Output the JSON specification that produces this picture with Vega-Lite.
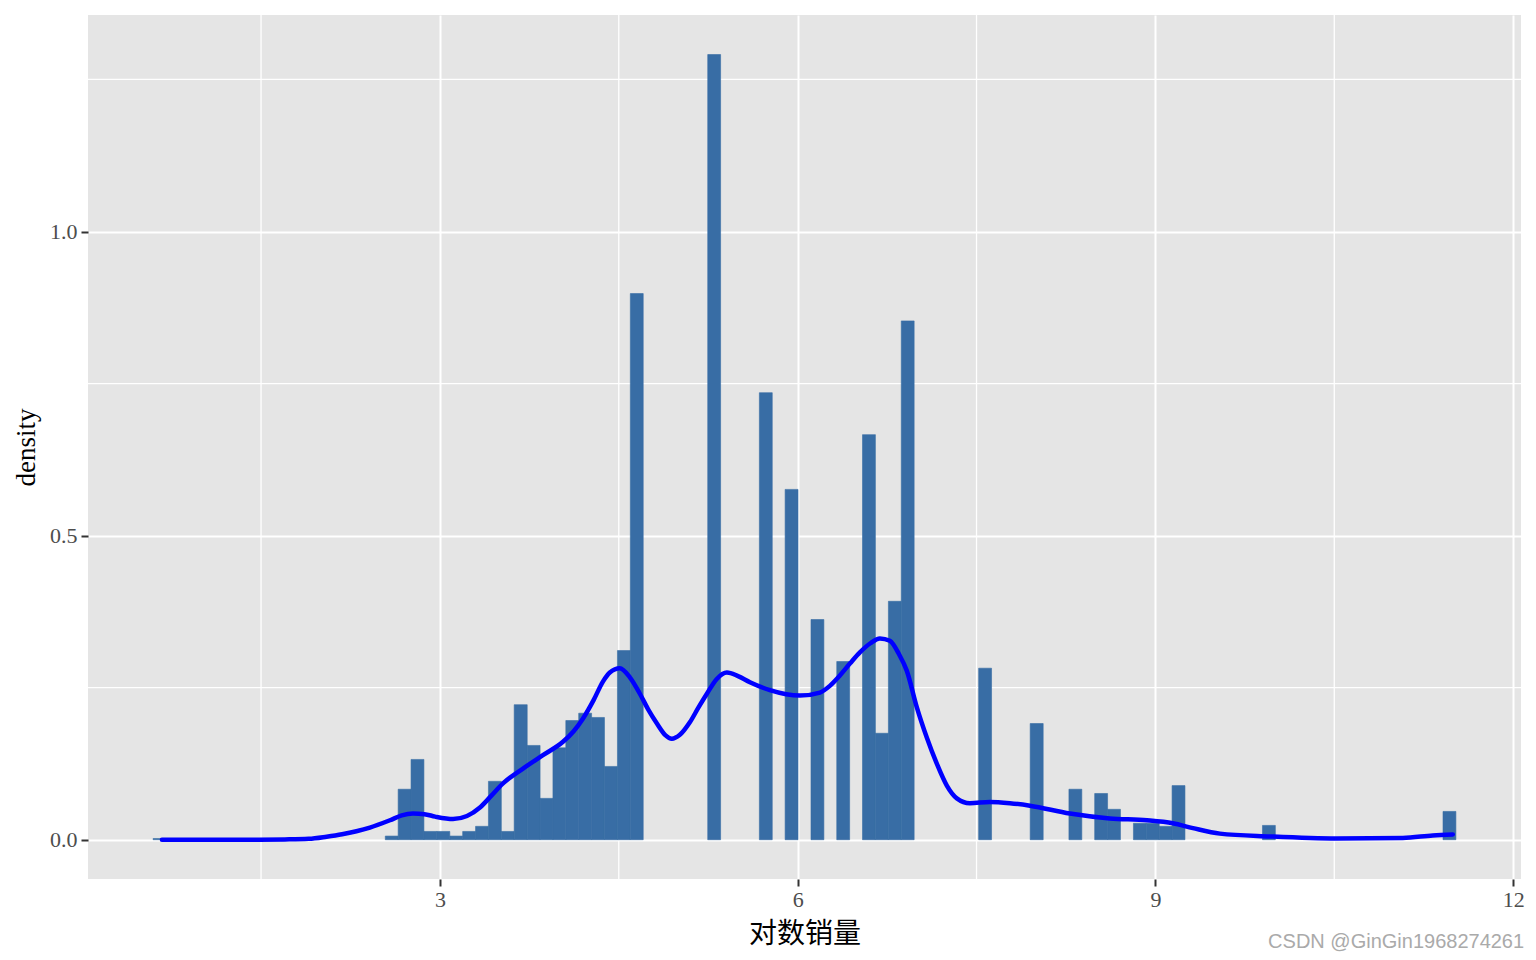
{
  "$schema": "https://vega.github.io/schema/vega-lite/v6.json",
  "width": 1433,
  "height": 864,
  "autosize": {"type": "none"},
  "padding": {"left": 88, "top": 15, "right": 15, "bottom": 81},
  "background": "#FFFFFF",
  "title": {
    "text": "CSDN @GinGin1968274261",
    "orient": "bottom",
    "anchor": "end",
    "font": "Liberation Sans",
    "fontSize": 20,
    "fontWeight": "normal",
    "color": "#AAAAAA",
    "offset": -16
  },
  "datasets": {
    "bars": [
      {"x0": 0.595, "x1": 0.703, "density": 0.002},
      {"x0": 2.542, "x1": 2.650, "density": 0.006},
      {"x0": 2.650, "x1": 2.758, "density": 0.083},
      {"x0": 2.758, "x1": 2.866, "density": 0.132},
      {"x0": 2.866, "x1": 2.974, "density": 0.0136},
      {"x0": 2.974, "x1": 3.083, "density": 0.0136},
      {"x0": 3.083, "x1": 3.191, "density": 0.006},
      {"x0": 3.191, "x1": 3.299, "density": 0.0136},
      {"x0": 3.299, "x1": 3.407, "density": 0.022},
      {"x0": 3.407, "x1": 3.515, "density": 0.096},
      {"x0": 3.515, "x1": 3.623, "density": 0.0136},
      {"x0": 3.623, "x1": 3.732, "density": 0.222},
      {"x0": 3.732, "x1": 3.840, "density": 0.155},
      {"x0": 3.840, "x1": 3.948, "density": 0.068},
      {"x0": 3.948, "x1": 4.056, "density": 0.151},
      {"x0": 4.056, "x1": 4.164, "density": 0.196},
      {"x0": 4.164, "x1": 4.272, "density": 0.208},
      {"x0": 4.272, "x1": 4.380, "density": 0.201},
      {"x0": 4.380, "x1": 4.489, "density": 0.1205},
      {"x0": 4.489, "x1": 4.597, "density": 0.311},
      {"x0": 4.597, "x1": 4.705, "density": 0.898},
      {"x0": 5.246, "x1": 5.354, "density": 1.291},
      {"x0": 5.679, "x1": 5.787, "density": 0.735},
      {"x0": 5.895, "x1": 6.003, "density": 0.576},
      {"x0": 6.112, "x1": 6.220, "density": 0.362},
      {"x0": 6.328, "x1": 6.436, "density": 0.293},
      {"x0": 6.544, "x1": 6.652, "density": 0.666},
      {"x0": 6.652, "x1": 6.761, "density": 0.175},
      {"x0": 6.761, "x1": 6.869, "density": 0.392},
      {"x0": 6.869, "x1": 6.977, "density": 0.853},
      {"x0": 7.518, "x1": 7.626, "density": 0.282},
      {"x0": 7.950, "x1": 8.059, "density": 0.191},
      {"x0": 8.275, "x1": 8.383, "density": 0.083},
      {"x0": 8.491, "x1": 8.599, "density": 0.076},
      {"x0": 8.599, "x1": 8.707, "density": 0.050},
      {"x0": 8.816, "x1": 8.924, "density": 0.027},
      {"x0": 8.924, "x1": 9.032, "density": 0.027},
      {"x0": 9.032, "x1": 9.140, "density": 0.022},
      {"x0": 9.140, "x1": 9.248, "density": 0.089},
      {"x0": 9.898, "x1": 10.006, "density": 0.0235},
      {"x0": 11.412, "x1": 11.520, "density": 0.0465}
    ],
    "dens": [
      {"x": 0.669, "density": 0.000},
      {"x": 1.000, "density": 0.000},
      {"x": 1.407, "density": 0.000},
      {"x": 1.700, "density": 0.0005},
      {"x": 1.900, "density": 0.0015},
      {"x": 2.050, "density": 0.005},
      {"x": 2.180, "density": 0.009},
      {"x": 2.300, "density": 0.014},
      {"x": 2.413, "density": 0.020},
      {"x": 2.581, "density": 0.032},
      {"x": 2.680, "density": 0.040},
      {"x": 2.774, "density": 0.043},
      {"x": 2.870, "density": 0.042},
      {"x": 2.960, "density": 0.038},
      {"x": 3.110, "density": 0.034},
      {"x": 3.227, "density": 0.039},
      {"x": 3.336, "density": 0.053},
      {"x": 3.430, "density": 0.072},
      {"x": 3.529, "density": 0.0925},
      {"x": 3.697, "density": 0.117},
      {"x": 3.864, "density": 0.139},
      {"x": 4.032, "density": 0.161},
      {"x": 4.120, "density": 0.178},
      {"x": 4.199, "density": 0.199},
      {"x": 4.290, "density": 0.230},
      {"x": 4.367, "density": 0.260},
      {"x": 4.425, "density": 0.275},
      {"x": 4.509, "density": 0.282},
      {"x": 4.593, "density": 0.267},
      {"x": 4.677, "density": 0.240},
      {"x": 4.750, "density": 0.213},
      {"x": 4.820, "density": 0.191},
      {"x": 4.890, "density": 0.172},
      {"x": 4.945, "density": 0.166},
      {"x": 5.010, "density": 0.172},
      {"x": 5.096, "density": 0.193},
      {"x": 5.170, "density": 0.218},
      {"x": 5.239, "density": 0.240},
      {"x": 5.320, "density": 0.264},
      {"x": 5.407, "density": 0.275},
      {"x": 5.500, "density": 0.269},
      {"x": 5.600, "density": 0.259},
      {"x": 5.767, "density": 0.246},
      {"x": 6.019, "density": 0.237},
      {"x": 6.187, "density": 0.242},
      {"x": 6.270, "density": 0.253},
      {"x": 6.354, "density": 0.270},
      {"x": 6.440, "density": 0.290},
      {"x": 6.522, "density": 0.308},
      {"x": 6.610, "density": 0.323},
      {"x": 6.690, "density": 0.331},
      {"x": 6.773, "density": 0.327},
      {"x": 6.850, "density": 0.305},
      {"x": 6.915, "density": 0.278},
      {"x": 6.999, "density": 0.218},
      {"x": 7.083, "density": 0.168},
      {"x": 7.167, "density": 0.125},
      {"x": 7.251, "density": 0.089},
      {"x": 7.335, "density": 0.068},
      {"x": 7.444, "density": 0.060},
      {"x": 7.612, "density": 0.062},
      {"x": 7.780, "density": 0.060},
      {"x": 7.948, "density": 0.056},
      {"x": 8.283, "density": 0.043},
      {"x": 8.618, "density": 0.035},
      {"x": 8.929, "density": 0.032},
      {"x": 9.147, "density": 0.027},
      {"x": 9.315, "density": 0.019},
      {"x": 9.541, "density": 0.010},
      {"x": 9.960, "density": 0.0054},
      {"x": 10.521, "density": 0.002},
      {"x": 11.075, "density": 0.003},
      {"x": 11.326, "density": 0.007},
      {"x": 11.494, "density": 0.0087}
    ],
    "minorx": [{"x": 1.5}, {"x": 4.5}, {"x": 7.5}, {"x": 10.5}],
    "minory": [{"density": 0.25}, {"density": 0.75}, {"density": 1.25}]
  },
  "layer": [
    {
      "data": {"name": "minorx"},
      "mark": {"type": "rule", "color": "#FFFFFF", "strokeWidth": 1.3},
      "encoding": {
        "x": {"field": "x", "type": "quantitative", "title": "对数销量",
              "scale": {"domain": [0.049, 12.066], "nice": false, "zero": false},
              "axis": {"values": [3, 6, 9, 12], "gridWidth": 2, "tickWidth": 2, "labelFontSize": 22}}
      }
    },
    {
      "data": {"name": "minory"},
      "mark": {"type": "rule", "color": "#FFFFFF", "strokeWidth": 1.3},
      "encoding": {
        "y": {"field": "density", "type": "quantitative", "title": "density",
              "scale": {"domain": [-0.0646, 1.356], "nice": false, "zero": false},
              "axis": {"values": [0, 0.5, 1.0], "format": ".1f", "gridWidth": 2, "tickWidth": 2, "labelFontSize": 22}}
      }
    },
    {
      "data": {"name": "bars"},
      "mark": {"type": "bar", "color": "#386DA5", "stroke": "#386DA5", "strokeWidth": 0.6},
      "encoding": {
        "x": {"field": "x0", "type": "quantitative", "title": "对数销量",
              "scale": {"domain": [0.049, 12.066], "nice": false, "zero": false},
              "axis": {"values": [3, 6, 9, 12], "gridWidth": 2, "tickWidth": 2, "labelFontSize": 22}},
        "x2": {"field": "x1"},
        "y": {"field": "density", "type": "quantitative", "title": "density",
              "scale": {"domain": [-0.0646, 1.356], "nice": false, "zero": false},
              "axis": {"values": [0, 0.5, 1.0], "format": ".1f", "gridWidth": 2, "tickWidth": 2, "labelFontSize": 22}},
        "y2": {"datum": 0}
      }
    },
    {
      "data": {"name": "dens"},
      "mark": {"type": "line", "color": "#0000FF", "strokeWidth": 4.5, "interpolate": "monotone", "strokeCap": "round", "strokeJoin": "round"},
      "encoding": {
        "x": {"field": "x", "type": "quantitative", "title": "对数销量",
              "scale": {"domain": [0.049, 12.066], "nice": false, "zero": false},
              "axis": {"values": [3, 6, 9, 12], "gridWidth": 2, "tickWidth": 2, "labelFontSize": 22}},
        "y": {"field": "density", "type": "quantitative", "title": "density",
              "scale": {"domain": [-0.0646, 1.356], "nice": false, "zero": false},
              "axis": {"values": [0, 0.5, 1.0], "format": ".1f", "gridWidth": 2, "tickWidth": 2, "labelFontSize": 22}}
      }
    }
  ],
  "config": {
    "view": {"fill": "#E5E5E5", "stroke": null},
    "axis": {
      "grid": true,
      "gridColor": "#FFFFFF",
      "gridWidth": 2,
      "gridOpacity": 1,
      "domain": false,
      "ticks": true,
      "tickColor": "#333333",
      "tickWidth": 2,
      "tickSize": 7,
      "labelFont": "Liberation Serif",
      "labelFontSize": 22,
      "labelColor": "#4D4D4D",
      "titleFontWeight": "normal",
      "titleColor": "#000000"
    },
    "axisX": {
      "labelPadding": 3,
      "labelFontSize": 22,
      "tickWidth": 2,
      "gridWidth": 2,
      "titleFont": "Noto Sans CJK SC",
      "titleFontSize": 28,
      "titlePadding": 10
    },
    "axisY": {
      "labelPadding": 4,
      "labelFontSize": 22,
      "tickWidth": 2,
      "gridWidth": 2,
      "titleFont": "Liberation Serif",
      "titleFontSize": 27,
      "titlePadding": 9
    }
  }
}
